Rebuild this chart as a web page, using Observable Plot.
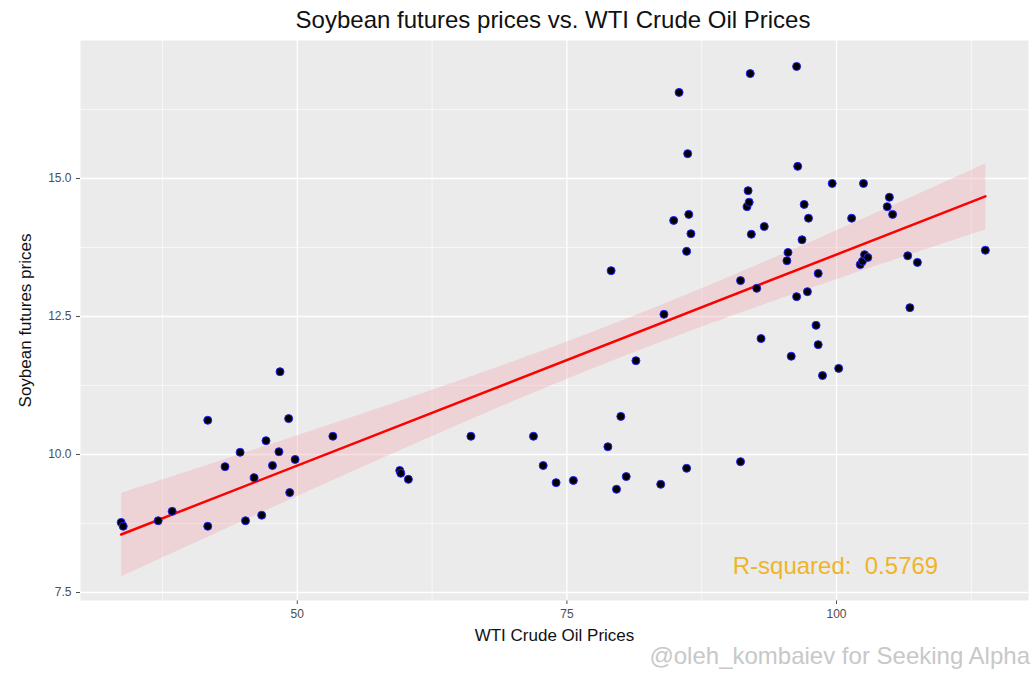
<!DOCTYPE html>
<html><head><meta charset="utf-8">
<script src="https://cdn.jsdelivr.net/npm/d3@7"></script>
<script src="https://cdn.jsdelivr.net/npm/@observablehq/plot@0.6"></script>
<style>
body{margin:0;background:#fff;font-family:"Liberation Sans",Arial,sans-serif;}
#wrap{position:relative;width:1036px;height:676px;}
#title{height:38px;line-height:40px;text-align:center;font-size:24px;color:#111;padding-left:70px;box-sizing:border-box;}
#cap{position:absolute;right:6px;top:642px;font-size:24px;color:#c8c8c8;}
</style></head><body>
<div id="wrap"><div id="title">Soybean futures prices vs. WTI Crude Oil Prices</div><div id="chart"></div><div id="cap">@oleh_kombaiev for Seeking Alpha</div></div>
<script>
const oil = [33.67,33.86,37.1,38.4,41.7,41.7,43.3,44.7,45.2,46.0,46.7,47.1,47.7,48.3,48.4,49.2,49.3,49.8,53.3,59.5,59.6,60.3,66.1,71.9,72.8,74.0,75.6,78.8,79.1,79.6,80.0,80.5,81.4,83.7,84.0,84.9,86.1,86.2,86.5,85.4,86.1,86.3,91.1,91.1,91.7,91.8,91.9,92.0,92.1,92.6,93.0,93.3,95.4,95.5,95.8,96.3,96.4,96.3,96.8,97.0,97.3,97.4,98.1,98.3,98.3,98.7,99.6,100.2,101.4,102.2,102.4,102.5,102.6,102.9,104.7,104.9,105.2,106.6,106.8,107.5,113.8];
const soy = [8.77,8.70,8.80,8.97,10.62,8.70,9.78,10.04,8.80,9.58,8.90,10.25,9.80,10.05,11.50,10.65,9.31,9.91,10.33,9.71,9.66,9.55,10.33,10.33,9.80,9.49,9.53,10.14,13.33,9.37,10.69,9.60,11.70,9.46,12.54,14.24,9.75,15.45,14.00,16.56,13.68,14.35,13.15,9.87,14.49,14.78,14.57,16.90,13.99,13.01,12.10,14.13,13.51,13.66,11.78,17.03,15.22,12.86,13.89,14.53,12.95,14.28,12.34,13.28,11.99,11.43,14.91,11.56,14.28,13.44,13.50,14.91,13.62,13.57,14.49,14.66,14.35,13.60,12.66,13.48,13.70];
const xMajor = [50,75,100];
const xMinor = [37.5,62.5,87.5,112.5];
const yMajor = [7.5,10,12.5,15];
const yMinor = [8.75,11.25,13.75,16.25];
const data = oil.map((x,i)=>({x, y: soy[i]}));
const plot = Plot.plot({
  width:1036, height:638, marginLeft:80, marginRight:8, marginTop:2, marginBottom:76,
  style:{fontFamily:"Liberation Sans, Arial, sans-serif", fontSize:"12px", color:"#4d4d4d"},
  x:{domain:[29.9,117.8], ticks:xMajor, tickSize:4, label:"WTI Crude Oil Prices", labelAnchor:"center", labelArrow:"none", labelOffset:40},
  y:{domain:[7.355,17.5], ticks:yMajor, tickSize:4, tickFormat:d3.format(".1f"), label:"Soybean futures prices", labelAnchor:"center", labelArrow:"none", labelOffset:62},
  marks:[
    Plot.frame({fill:"#ebebeb", stroke:null}),
    Plot.ruleX(xMinor,{stroke:"#fff", strokeWidth:0.6}),
    Plot.ruleY(yMinor,{stroke:"#fff", strokeWidth:0.6}),
    Plot.ruleX(xMajor,{stroke:"#fff", strokeWidth:1.3}),
    Plot.ruleY(yMajor,{stroke:"#fff", strokeWidth:1.3}),
    Plot.linearRegressionY(data,{x:"x", y:"y", stroke:"red", strokeWidth:2.5, fill:"#f4a6b0", fillOpacity:0.35, ci:0.95}),
    Plot.dot(data,{x:"x", y:"y", r:4, fill:"black", stroke:"#2222ff", strokeWidth:1}),
    Plot.text(["R-squared:  0.5769"],{x:99.9, y:7.97, text:d=>d, fill:"#f0b429", fontSize:24})
  ]
});
plot.querySelectorAll('[aria-label="x-axis label"] text,[aria-label="y-axis label"] text').forEach(t=>{t.style.fontSize="17px";t.style.fill="#111";});
document.getElementById("chart").appendChild(plot);
</script></body></html>
